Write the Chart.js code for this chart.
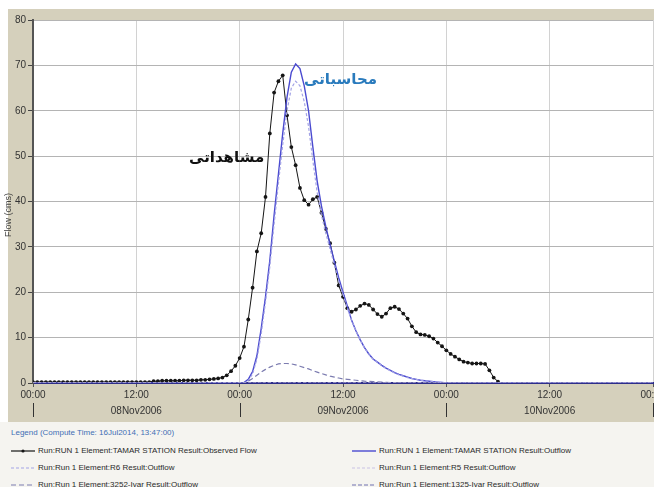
<!DOCTYPE html>
<html>
<head>
<meta charset="utf-8">
<script src="https://cdn.jsdelivr.net/npm/chart.js@4/dist/chart.umd.min.js"></script>
<style>
  html, body { margin: 0; padding: 0; background: #fff; overflow: hidden; }
  body { width: 654px; height: 487px; position: relative; font-family: "Liberation Sans", Arial, sans-serif; }
  #panel { position: absolute; left: 8px; top: 9px; width: 700px; height: 413px; background: #d5d0bc; }
  #legendBox { position: absolute; left: 0; top: 422px; width: 654px; height: 65px; background: #f5f4f0; }
  #wrap { position: absolute; left: 0; top: 0; width: 700px; height: 424px; }
  #yTitle { position: absolute; left: -22px; top: 210px; width: 60px; text-align: center; transform: rotate(-90deg);
            font: 9px "Liberation Sans Narrow", "Liberation Sans", sans-serif; color: #444; }
  .fa { position: absolute; font: bold 15px "DejaVu Sans", sans-serif; direction: rtl; white-space: nowrap; }
  #calcLbl { left: 304px; top: 70px; color: #2a7bbd; }
  #obsLbl { left: 189px; top: 148px; color: #111; }
  .ltitle { position: absolute; left: 11px; top: 428px; font: 8px "Liberation Sans", sans-serif; color: #3f6fb5; }
  .lrow { position: absolute; font: 8px "Liberation Sans Narrow", "Liberation Sans", sans-serif; color: #2a2a2a; white-space: nowrap; }
  .lrow svg { vertical-align: middle; margin-right: 3px; }
</style>
</head>
<body>
<div id="panel"></div>
<div id="legendBox"></div>
<div id="wrap"><canvas id="chart" width="700" height="424"></canvas></div>
<div id="yTitle">Flow (cms)</div>
<div id="calcLbl" class="fa">محاسباتی</div>
<div id="obsLbl" class="fa">مشاهداتی</div>
<div id="legend"></div>

<script>
// time axis in hours from 00:00 08Nov2006, values every half hour
const STEP = 0.5;
const dayLabels = ['08Nov2006', '09Nov2006', '10Nov2006'];
const dayNoonHours = [12, 36, 60];
const dayStartHours = [0, 24, 48, 72];
const yTicks = [0, 10, 20, 30, 40, 50, 60, 70, 80];

// observed flow at TAMAR STATION, from hour 0
const obsStart = 0;
const obsFlow = [
  0.2, 0.2, 0.2, 0.2, 0.2, 0.2, 0.2, 0.2, 0.2, 0.2, 0.2, 0.2, 0.2, 0.2,
  0.2, 0.2, 0.2, 0.2, 0.2, 0.2, 0.2, 0.2, 0.2, 0.2, 0.2, 0.2, 0.2, 0.2,
  0.4, 0.4, 0.5, 0.5, 0.5, 0.5, 0.5, 0.6, 0.6, 0.6, 0.6, 0.7,
  0.7, 0.8, 0.9, 1.0, 1.2, 1.7, 2.6, 3.8,
  5.5, 8, 14, 21, 29, 33, 41, 55, 64, 66.5, 67.8, 59, 52, 48, 43, 40.3,
  39.3, 40.5, 41, 37.5, 34, 30.8, 26.5, 21.5, 19, 16.5, 15.7, 16.2, 17, 17.5,
  17.2, 16.2, 15.2, 14.6, 15.3, 16.5, 16.8, 16.3, 15.3, 14.2, 12.5, 11.2,
  10.7, 10.6, 10.3, 9.8, 8.9, 8.1, 7.2, 6.4, 5.8, 5.2, 4.7, 4.5, 4.3, 4.3,
  4.3, 4.2, 2.8, 1.2, 0.3
];

// computed outflow at TAMAR STATION, from hour 24
const calcStart = 24;
const calcFlow = [
  0, 0.1, 0.8, 2.5, 6, 12, 19, 27, 37, 46, 55, 63, 68.5, 70.3, 69.3, 65.5,
  60, 52, 44.5, 39, 34.5, 30.5, 26.8, 23.2, 20, 17, 13.8, 11.5, 9.5, 7.8,
  6.4, 5.3, 4.6, 3.9, 3.3, 2.8, 2.3, 1.9, 1.6, 1.3, 1.0, 0.8, 0.6, 0.5,
  0.4, 0.3, 0.2, 0.1, 0
];

// R6 outflow, from hour 24
const r6Start = 24;
const r6Flow = [
  0, 0, 0.5, 2, 5.2, 10.8, 17.8, 25.6, 35, 44, 52.5, 60, 65, 66.5, 65.5, 62,
  56.5, 49, 42, 37, 33, 29.5, 26, 22.5, 19.5, 16.5, 13.8, 11.5, 9.5, 7.7,
  6.3, 5.2, 4.5, 3.8, 3.2, 2.7, 2.2, 1.8, 1.5, 1.2, 1.0, 0.8, 0.6, 0.5,
  0.4, 0.3, 0.2, 0.1, 0
];

// 3252 junction outflow (small hump), from hour 24.5
const j3252Start = 24.5;
const j3252Flow = [
  0, 0.4, 1.0, 1.7, 2.4, 3.0, 3.5, 3.9, 4.2, 4.3, 4.3, 4.2, 4.0, 3.7, 3.4,
  3.1, 2.7, 2.4, 2.1, 1.8, 1.5, 1.3, 1.1, 0.9, 0.8, 0.7, 0.6, 0.5, 0.4,
  0.35, 0.3, 0.25, 0.2, 0.15, 0.1, 0.1, 0.05, 0
];

// R5 and 1325 stay at zero over the whole window
const flatHours = [0, 72];
const flatFlow = [0, 0];

function toPoints(start, values, padEnds) {
  const pts = values.map((v, i) => ({ x: start + i * STEP, y: v }));
  if (padEnds) {
    pts.unshift({ x: 0, y: 0 });
    pts.push({ x: 72, y: 0 });
  }
  return pts;
}

const series = [
  { key: 'obs', label: 'Run:RUN 1 Element:TAMAR STATION Result:Observed Flow', color: '#151515', width: 1, dash: [], dots: true },
  { key: 'calc', label: 'Run:RUN 1 Element:TAMAR STATION Result:Outflow', color: '#4a4ad0', width: 1.4, dash: [] },
  { key: 'r6', label: 'Run:Run 1 Element:R6 Result:Outflow', color: '#a4a4e6', width: 1.2, dash: [3, 2] },
  { key: 'r5', label: 'Run:Run 1 Element:R5 Result:Outflow', color: '#c9c2e4', width: 1.2, dash: [3, 2] },
  { key: 'j3252', label: 'Run:Run 1 Element:3252-Ivar Result:Outflow', color: '#7c7cb0', width: 1.2, dash: [5, 3] },
  { key: 'j1325', label: 'Run:Run 1 Element:1325-Ivar Result:Outflow', color: '#7070b0', width: 1.2, dash: [4, 2] }
];

const pointsFor = {
  obs: toPoints(obsStart, obsFlow, false),
  calc: toPoints(calcStart, calcFlow, true),
  r6: toPoints(r6Start, r6Flow, true),
  r5: flatHours.map((h, i) => ({ x: h, y: flatFlow[i] })),
  j3252: toPoints(j3252Start, j3252Flow, true),
  j1325: flatHours.map((h, i) => ({ x: h, y: flatFlow[i] }))
};

// draw order: flat ones first, observed on top
const drawOrder = ['r5', 'j1325', 'j3252', 'r6', 'calc', 'obs'];
const datasets = drawOrder.map(k => {
  const s = series.find(d => d.key === k);
  return {
    label: s.label,
    data: pointsFor[k],
    borderColor: s.color,
    backgroundColor: s.color,
    borderWidth: s.width,
    borderDash: s.dash,
    pointRadius: s.dots ? 1.9 : 0,
    pointBorderWidth: 0,
    pointBackgroundColor: s.color,
    tension: 0,
    fill: false
  };
});

const plotBg = {
  id: 'plotBg',
  beforeDraw(chart) {
    const { ctx, chartArea: a } = chart;
    ctx.save();
    ctx.fillStyle = '#ffffff';
    ctx.fillRect(a.left, a.top, a.right - a.left, a.bottom - a.top);
    ctx.restore();
  }
};

const dateRow = {
  id: 'dateRow',
  afterDraw(chart) {
    const { ctx } = chart;
    const xs = chart.scales.x;
    ctx.save();
    ctx.strokeStyle = '#333';
    ctx.lineWidth = 1;
    dayStartHours.forEach(h => {
      const px = Math.round(xs.getPixelForValue(h)) + 0.5;
      ctx.beginPath();
      ctx.moveTo(px, 403);
      ctx.lineTo(px, 417);
      ctx.stroke();
    });
    ctx.fillStyle = '#333';
    ctx.font = '10px "Liberation Sans Narrow", "Liberation Sans", sans-serif';
    ctx.textAlign = 'center';
    ctx.textBaseline = 'middle';
    dayLabels.forEach((t, i) => ctx.fillText(t, xs.getPixelForValue(dayNoonHours[i]), 411));
    ctx.restore();
  }
};

const tickFont = { family: '"Liberation Sans Narrow", "Liberation Sans", sans-serif', size: 10 };

new Chart(document.getElementById('chart'), {
  type: 'line',
  data: { datasets },
  plugins: [plotBg, dateRow],
  options: {
    responsive: false,
    animation: false,
    devicePixelRatio: 1,
    layout: { padding: { top: 20, right: 47, left: 0, bottom: 0 } },
    plugins: { legend: { display: false }, tooltip: { enabled: false } },
    scales: {
      x: {
        type: 'linear',
        min: 0,
        max: 72,
        afterFit: s => { s.height = 41; },
        ticks: {
          stepSize: 12,
          autoSkip: false,
          maxRotation: 0,
          padding: 2,
          color: '#333',
          font: tickFont,
          callback: v => (v % 24 === 0 ? '00:00' : '12:00')
        },
        grid: { color: '#d2d2d2', lineWidth: 1, tickLength: 4, tickColor: '#555' },
        border: { display: true, color: '#2e2e8a', width: 2 }
      },
      y: {
        min: 0,
        max: 80,
        afterFit: s => { s.width = 33; },
        afterBuildTicks: s => { s.ticks = yTicks.map(v => ({ value: v })); },
        ticks: { padding: 2, color: '#333', font: tickFont },
        grid: { color: '#b4b4b4', lineWidth: 1, tickLength: 5, tickColor: '#444' },
        border: { display: true, color: '#555', width: 2 }
      }
    }
  }
});

// legend, two columns
const legendPos = [
  { key: 'obs', left: 11, top: 446 },
  { key: 'calc', left: 352, top: 446 },
  { key: 'r6', left: 11, top: 463 },
  { key: 'r5', left: 352, top: 463 },
  { key: 'j3252', left: 11, top: 480 },
  { key: 'j1325', left: 352, top: 480 }
];
const legendEl = document.getElementById('legend');
const title = document.createElement('div');
title.className = 'ltitle';
title.textContent = 'Legend (Compute Time: 16Jul2014, 13:47:00)';
legendEl.appendChild(title);
legendPos.forEach(p => {
  const s = series.find(d => d.key === p.key);
  const row = document.createElement('div');
  row.className = 'lrow';
  row.style.left = p.left + 'px';
  row.style.top = p.top + 'px';
  const dash = s.dash.length ? ` stroke-dasharray="${s.dash.join(',')}"` : '';
  const dot = s.dots ? `<circle cx="12" cy="3" r="1.6" fill="${s.color}"/>` : '';
  row.innerHTML = `<svg width="24" height="6"><line x1="0" y1="3" x2="24" y2="3" stroke="${s.color}" stroke-width="${Math.max(s.width, 1.2)}"${dash}/>${dot}</svg>`;
  const span = document.createElement('span');
  span.textContent = s.label;
  row.appendChild(span);
  legendEl.appendChild(row);
});
</script>
</body>
</html>
